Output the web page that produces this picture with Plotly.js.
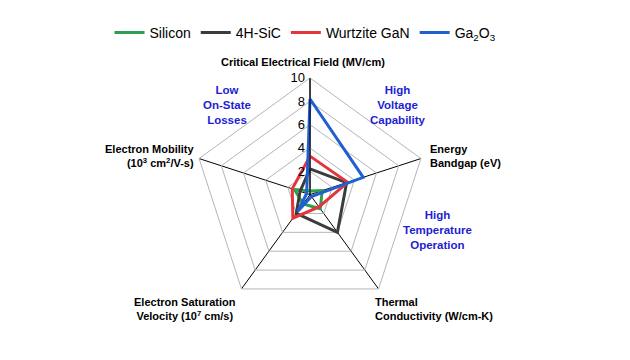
<!DOCTYPE html>
<html>
<head>
<meta charset="utf-8">
<script src="https://cdn.plot.ly/plotly-3.0.1.min.js"></script>
<style>html,body{margin:0;padding:0;background:#fff;}#chart{width:630px;height:360px;}</style>
</head>
<body>
<div id="chart"></div>
<script>
// Axis categories (clockwise from top)
const categories = ["Critical Electrical Field", "Energy Bandgap", "Thermal Conductivity", "Electron Saturation Velocity", "Electron Mobility"];
const seriesNames = ["Silicon", "4H-SiC", "Wurtzite GaN", "Ga<sub>2</sub>O<sub>3</sub>"];
const silicon = [0.3, 1.1, 1.5, 1.0, 1.4];
const sic4h   = [2.2, 3.3, 4.0, 2.0, 0.9];
const ganW    = [3.3, 3.4, 1.3, 2.5, 1.6];
const ga2o3   = [8.2, 4.8, 0.2, 1.8, 0.3];
const radialTicks = [2, 4, 6, 8, 10];

const colors = ["#2e9e50", "#3c3c3c", "#e5343a", "#1f5fd0"];
const allSeries = [silicon, sic4h, ganW, ga2o3];

const traces = allSeries.map((vals, i) => ({
  type: "scatterpolar",
  r: vals.concat([vals[0]]),
  theta: categories.concat([categories[0]]),
  mode: "lines",
  name: seriesNames[i],
  line: {color: colors[i], width: 3},
  hoverinfo: "skip"
}));

const W = 630, H = 360;
const cx = 310, cy = 194.6, R = 116.6;
const fontFam = "Liberation Sans, Arial, sans-serif";
function ann(text, px, py, xanchor, align, color, size) {
  return {
    text: text, xref: "paper", yref: "paper",
    x: px / W, y: 1 - py / H, xanchor: xanchor, yanchor: "middle",
    align: align, showarrow: false,
    font: {family: fontFam, size: size || 11, color: color || "#000"}
  };
}
const blue = "#1e1ed2";
const annotations = [
  ann("<b>Critical Electrical Field (MV/cm)</b>", 303, 62, "center", "center"),
  ann("<b>Energy<br>Bandgap (eV)</b>", 428, 156, "left", "left"),
  ann("<b>Thermal<br>Conductivity (W/cm-K)</b>", 373, 309, "left", "left"),
  ann("<b>Electron Saturation<br>Velocity (10<sup>7</sup> cm/s)</b>", 185, 309, "center", "center"),
  ann("<b>Electron Mobility<br>(10<sup>3</sup> cm<sup>2</sup>/V-s)</b>", 197, 156, "right", "right"),
  ann("<b>Low<br>On-State<br>Losses</b>", 227, 104.5, "center", "center", blue, 11.5),
  ann("<b>High<br>Voltage<br>Capability</b>", 398, 104.5, "center", "center", blue, 11.5),
  ann("<b>High<br>Temperature<br>Operation</b>", 437, 230, "center", "center", blue, 11.5)
];

const layout = {
  width: W, height: H,
  margin: {l: 0, r: 0, t: 0, b: 0},
  paper_bgcolor: "#fff",
  font: {family: fontFam, color: "#000"},
  showlegend: true,
  legend: {
    orientation: "h", x: 305.5 / W, xanchor: "center", y: 1 - 17 / H, yanchor: "top",
    font: {family: fontFam, size: 14, color: "#000"},
    itemwidth: 30, tracegroupgap: 0
  },
  polar: {
    domain: {x: [(cx - R) / W, (cx + R) / W], y: [(H - cy - R) / H, (H - cy + R) / H]},
    gridshape: "linear",
    bgcolor: "#fff",
    radialaxis: {
      range: [0, 10], tickvals: radialTicks, ticktext: radialTicks.map(String),
      angle: 90, side: "counterclockwise", tickangle: 90,
      showline: true, linecolor: "#000", linewidth: 1,
      gridcolor: "#b5b5b5", gridwidth: 1,
      ticks: "", tickfont: {family: fontFam, size: 13, color: "#000"}
    },
    angularaxis: {
      rotation: 90, direction: "clockwise",
      showticklabels: false, ticks: "",
      showline: true, linecolor: "#b5b5b5", linewidth: 1,
      gridcolor: "#000", gridwidth: 1
    }
  },
  annotations: annotations
};

Plotly.newPlot("chart", traces, layout, {displayModeBar: false, staticPlot: true});
</script>
</body>
</html>
